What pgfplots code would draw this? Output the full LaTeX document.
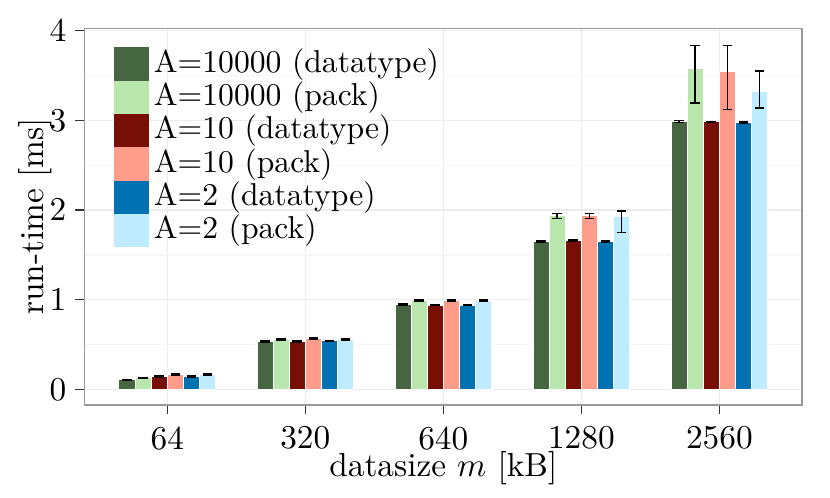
\documentclass[border=0pt]{standalone}
\usepackage{fontspec}
\usepackage{pgfplots}
\pgfplotsset{compat=1.18}
\usepackage{pgfplotstable}

\definecolor{cDG}{RGB}{70,102,65}
\definecolor{cLG}{RGB}{184,230,173}
\definecolor{cDR}{RGB}{120,15,6}
\definecolor{cSA}{RGB}{255,156,138}
\definecolor{cBL}{RGB}{0,114,178}
\definecolor{cLB}{RGB}{191,235,255}

\pgfplotstableread{
x y ep em
0 0.105 0.005 0.005
1 0.535 0.005 0.005
2 0.942 0.007 0.007
3 1.650 0.005 0.005
4 2.988 0.010 0.010
}\tDG
\pgfplotstableread{
x y ep em
0 0.127 0.005 0.005
1 0.554 0.005 0.005
2 0.989 0.005 0.005
3 1.937 0.025 0.030
4 3.579 0.259 0.383
}\tLG
\pgfplotstableread{
x y ep em
0 0.142 0.005 0.005
1 0.535 0.005 0.005
2 0.940 0.005 0.005
3 1.660 0.005 0.005
4 2.984 0.006 0.006
}\tDR
\pgfplotstableread{
x y ep em
0 0.167 0.006 0.006
1 0.565 0.005 0.005
2 0.992 0.005 0.005
3 1.937 0.025 0.030
4 3.545 0.293 0.423
}\tSA
\pgfplotstableread{
x y ep em
0 0.145 0.005 0.005
1 0.539 0.005 0.005
2 0.940 0.007 0.007
3 1.653 0.007 0.007
4 2.977 0.006 0.006
}\tBL
\pgfplotstableread{
x y ep em
0 0.164 0.005 0.005
1 0.557 0.005 0.005
2 0.990 0.005 0.005
3 1.930 0.058 0.183
4 3.326 0.223 0.190
}\tLB

\pgfplotsset{
  mybar/.style={fill=#1, draw=white, line width=0.3pt,
    legend image code/.code={\fill[##1,draw=none] (0pt,-5pt) rectangle (10.5pt,5pt);},
    /pgfplots/error bars/y dir=both,
    /pgfplots/error bars/y explicit,
    /pgfplots/error bars/error mark=|,
    /pgfplots/error bars/error bar style={black, line width=0.45pt},
    /pgfplots/error bars/error mark options={black, line width=0.45pt, mark size=1.45pt}},
}

\begin{document}
\begin{tikzpicture}
\path[use as bounding box] (-25.35pt,-27.9pt) rectangle (223.65pt,121.5pt);
\begin{axis}[
  at={(0pt,0pt)}, anchor=south west,
  scale only axis, width=215.3pt, height=113.0pt,
  xmin=-0.6, xmax=4.6, ymin=-0.175, ymax=4.027,
  ybar, bar width=0.1167,
  xtick={0,1,2,3,4}, xticklabels={64,320,640,1280,2560},
  ytick={0,1,2,3,4},
  minor ytick={0.5,1.5,2.5,3.5},
  grid=both,
  major grid style={color=gray!15, line width=0.4pt},
  minor grid style={color=gray!7, line width=0.4pt},
  axis line style={gray!80, line width=0.4pt},
  tick align=outside, major tick length=2.85pt, minor tick length=0pt,
  tick style={black!80, line width=0.4pt},
  tick pos=left,
  yticklabel style={anchor=east, inner sep=0pt, xshift=-2.4pt},
  xticklabel style={anchor=north, inner sep=0pt, yshift=-3.45pt},
  every axis x label/.style={at={(axis description cs:0.5,0)}, anchor=base, inner sep=0pt, yshift=-21.5pt},
  every axis y label/.style={at={(axis description cs:0,0.5)}, rotate=90, anchor=base, inner sep=0pt, yshift=12.33pt},
  xlabel={datasize $m$ [kB]}, ylabel={run-time [ms]},
  legend style={at={(0,1)}, anchor=north west, xshift=8.94pt, yshift=-5.7pt,
    draw=none, fill=none, inner sep=0pt, outer sep=0pt, row sep=0pt, column sep=1.4pt,
    nodes={font=\fontsize{9.5}{11}\selectfont, inner sep=0pt, text height=7.5pt, text depth=2.5pt}},
  legend cell align=left,
]
\addplot[mybar=cDG, bar shift=-0.2917] table[x=x, y=y, y error plus=ep, y error minus=em]{\tDG};
\addlegendentry{A=10000 (datatype)}
\addplot[mybar=cLG, bar shift=-0.1750] table[x=x, y=y, y error plus=ep, y error minus=em]{\tLG};
\addlegendentry{A=10000 (pack)}
\addplot[mybar=cDR, bar shift=-0.0583] table[x=x, y=y, y error plus=ep, y error minus=em]{\tDR};
\addlegendentry{A=10 (datatype)}
\addplot[mybar=cSA, bar shift=0.0583] table[x=x, y=y, y error plus=ep, y error minus=em]{\tSA};
\addlegendentry{A=10 (pack)}
\addplot[mybar=cBL, bar shift=0.1750] table[x=x, y=y, y error plus=ep, y error minus=em]{\tBL};
\addlegendentry{A=2 (datatype)}
\addplot[mybar=cLB, bar shift=0.2917] table[x=x, y=y, y error plus=ep, y error minus=em]{\tLB};
\addlegendentry{A=2 (pack)}
\end{axis}
\end{tikzpicture}
\end{document}
